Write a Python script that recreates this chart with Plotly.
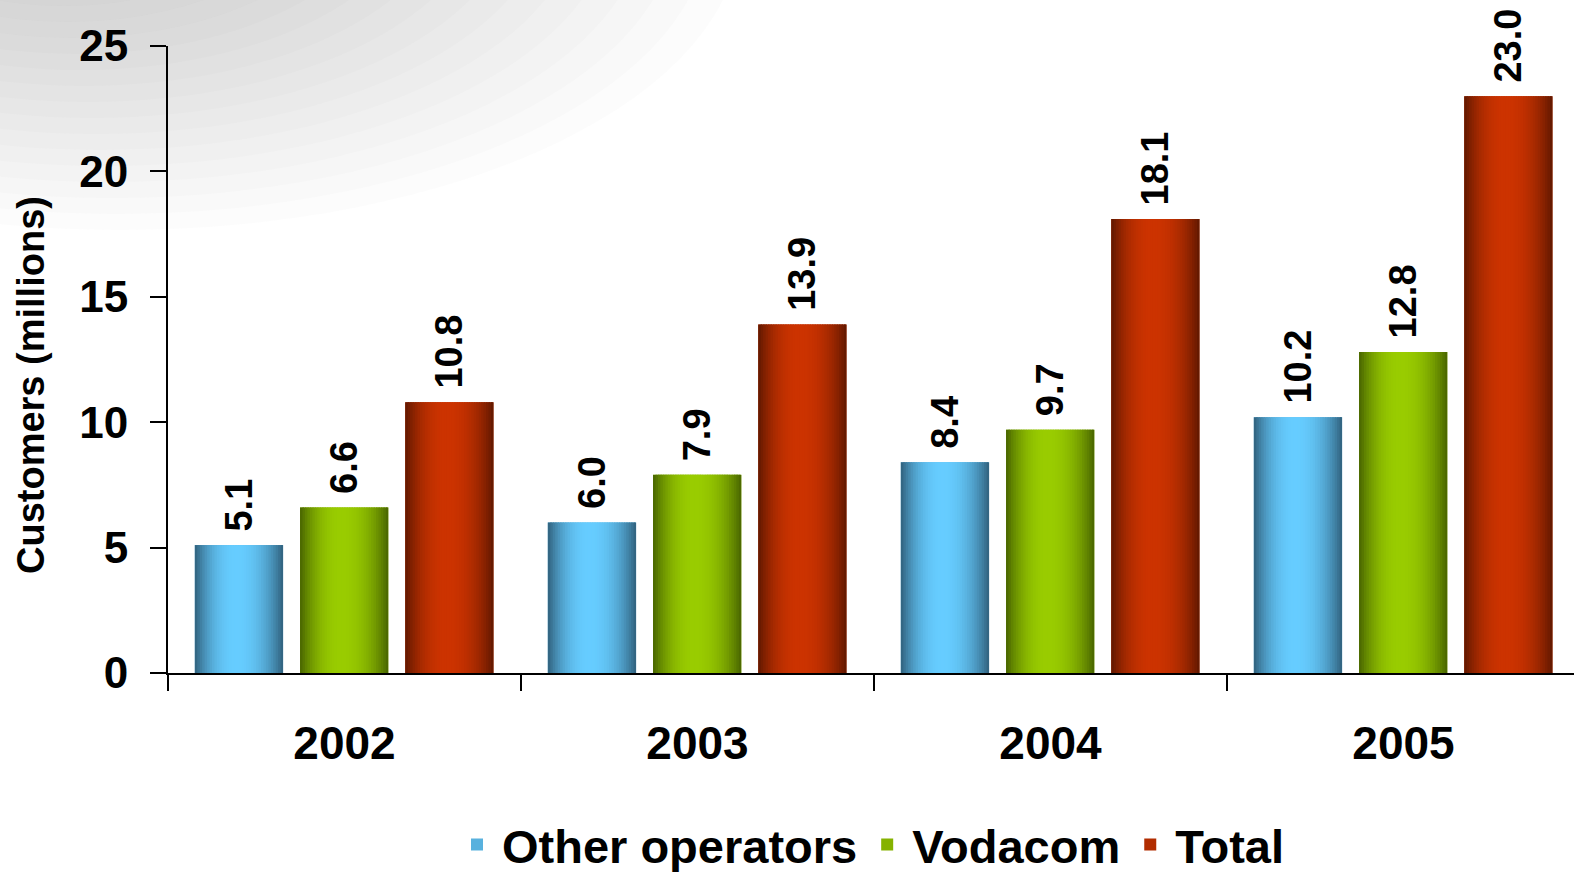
import plotly.graph_objects as go

years = ["2002", "2003", "2004", "2005"]
other_operators = [5.1, 6.0, 8.4, 10.2]
vodacom = [6.6, 7.9, 9.7, 12.8]
total = [10.8, 13.9, 18.1, 23.0]

series_names = ["Other operators", "Vodacom", "Total"]
series_values = [other_operators, vodacom, total]
edge_colors = [(0x30, 0x60, 0x7c), (0x48, 0x64, 0x00), (0x60, 0x18, 0x00)]
center_colors = [(0x66, 0xcc, 0xff), (0x99, 0xcc, 0x00), (0xcc, 0x33, 0x00)]
series_offsets = [-0.424, -0.126, 0.172]
bar_width = 0.25

FONT = "Liberation Sans, Arial, sans-serif"
N = 36
PEAK = 0.47

# plot-area geometry (pixels) used for decorative background
L, R, T, B = 168, 1574, 46, 673


def mix(c1, c2, t):
    return "rgb(%d,%d,%d)" % tuple(round(a + (b - a) * t) for a, b in zip(c1, c2))


def px_x(p):
    return (p - L) / (R - L)


def px_y(p):
    return (B - p) / (B - T)


fig = go.Figure()

# decorative soft grey swirl in the top-left background
NS = 18
for k in range(NS):
    rx = 620 - k * 28
    ry = 300 - k * 12
    cx, cy = 120 - k * 4, -70 - k * 4
    fig.add_shape(
        type="circle", xref="paper", yref="paper", layer="below",
        x0=px_x(cx - rx), x1=px_x(cx + rx), y0=px_y(cy + ry), y1=px_y(cy - ry),
        fillcolor="rgba(150,156,162,0.028)", line=dict(width=0),
    )

for name, vals, ec, cc, off in zip(series_names, series_values, edge_colors, center_colors, series_offsets):
    # base bar (legend + value labels)
    fig.add_trace(go.Bar(
        x=years, y=vals, name=name,
        width=[bar_width] * len(years), offset=[off] * len(years),
        marker=dict(color=mix(ec, cc, 0.75), line=dict(width=0)),
        text=["\u00a0%.1f" % v for v in vals], textposition="outside",
        textangle=-90, constraintext="none", cliponaxis=False,
        textfont=dict(family=FONT, size=38, color="black", weight="bold"),
        showlegend=True, hoverinfo="skip",
    ))
    # gradient slices
    sw = bar_width / N
    for i in range(N):
        u = (i + 0.5) / N
        f = u / PEAK if u < PEAK else (1 - u) / (1 - PEAK)
        t = 1 - (1 - f) ** 2.2
        fig.add_trace(go.Bar(
            x=years, y=vals,
            width=[sw * (1.0 if i == N - 1 else 1.6)] * len(years),
            offset=[off + i * sw] * len(years),
            marker=dict(color=mix(ec, cc, t), line=dict(width=0)),
            showlegend=False, hoverinfo="skip",
        ))

fig.add_annotation(
    text="Customers (millions)", textangle=-90,
    xref="paper", yref="paper", x=px_x(31), y=px_y(385),
    xanchor="center", yanchor="middle", showarrow=False,
    font=dict(family=FONT, size=38, color="black", weight="bold"),
)

fig.update_layout(
    width=1574, height=872,
    barmode="overlay",
    paper_bgcolor="white", plot_bgcolor="rgba(0,0,0,0)",
    margin=dict(l=L, r=1574 - R, t=T, b=872 - B, autoexpand=False),
    font=dict(family=FONT, color="black"),
    legend=dict(
        orientation="h", x=0.5, xanchor="center",
        yref="container", y=(872 - 845) / 872, yanchor="middle",
        font=dict(family=FONT, size=47, color="black", weight="bold"),
        bgcolor="rgba(0,0,0,0)", itemwidth=40,
    ),
    xaxis=dict(
        type="category", range=[-0.5, 3.483], automargin=False,
        showline=True, linecolor="black", linewidth=2,
        ticks="outside", ticklen=16, tickwidth=2, tickcolor="black",
        tickson="boundaries", showgrid=False, zeroline=False,
        tickfont=dict(family=FONT, size=46, color="black", weight="bold"),
        ticklabelstandoff=29,
    ),
    yaxis=dict(
        range=[0, 25], tickvals=[0, 5, 10, 15, 20, 25], automargin=False,
        showline=True, linecolor="black", linewidth=2,
        ticks="outside", ticklen=16, tickwidth=2, tickcolor="black",
        showgrid=False, zeroline=False,
        tickfont=dict(family=FONT, size=44, color="black", weight="bold"),
        ticklabelstandoff=13,
    ),
)

fig.write_html(
    "out.html",
    config={"displayModeBar": False},
    post_script="document.body.style.margin='0';document.body.style.overflow='hidden';",
)
